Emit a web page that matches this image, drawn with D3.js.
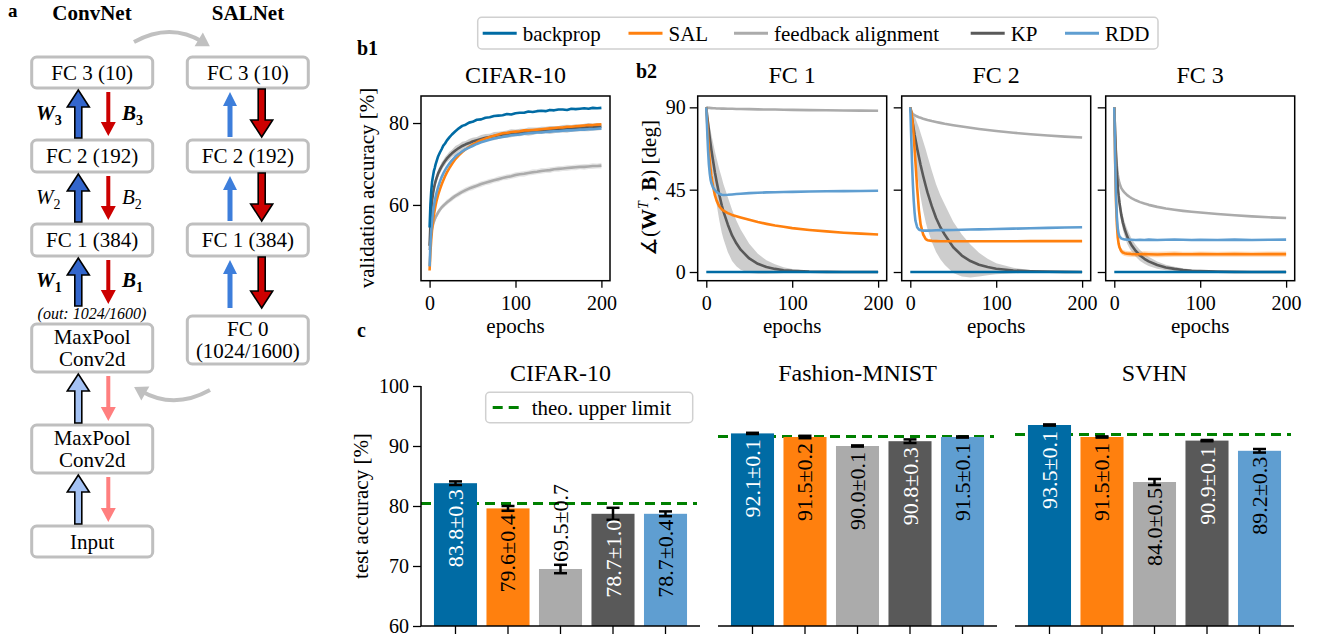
<!DOCTYPE html>
<html>
<head>
<meta charset="utf-8">
<script src="https://cdn.jsdelivr.net/npm/d3@7"></script>
<style>
  body { margin: 0; background: #fff; }
</style>
</head>
<body>
<div id="chart-area"></div>
<script>
var methods = ["backprop", "SAL", "feedback alignment", "KP", "RDD"]
var colors = ["#006ba4", "#ff800e", "#ababab", "#595959", "#5f9ed1"]
var serif = "'Liberation Serif', 'DejaVu Serif', serif"

// b1: validation accuracy on CIFAR-10
var epochsVal = [0,1,2,3,4,5,6,7,8,10,12,14,16,18,20,23,26,30,34,38,42,46,50,55,60,65,70,75,80,85,90,95,100,105,110,115,120,125,130,135,140,145,150,155,160,165,170,175,180,185,190,195,200]
var valBackprop = [54.5,60.2,63.6,65.8,67.1,68.3,69.0,69.9,70.6,71.9,72.8,73.6,74.5,75.0,75.7,76.5,77.2,78.0,78.7,79.3,79.6,80.1,80.3,80.8,80.9,81.3,81.4,81.7,81.8,81.9,82.2,82.1,82.4,82.5,82.5,82.8,82.7,82.9,83.0,82.9,83.2,83.1,83.3,83.3,83.2,83.5,83.4,83.5,83.6,83.5,83.7,83.6,83.7]
var valSAL = [44.0,48.5,51.8,54.2,56.0,57.5,58.8,59.9,60.9,62.5,63.8,65.0,66.0,67.0,67.9,69.0,70.0,71.2,72.1,72.9,73.6,74.2,74.7,75.3,75.8,76.2,76.6,76.9,77.2,77.5,77.6,77.8,77.9,78.0,78.2,78.2,78.3,78.4,78.5,78.6,78.7,78.8,78.9,78.9,79.1,79.1,79.2,79.3,79.4,79.5,79.5,79.6,79.7]
var valFA = [49.0,51.8,53.3,54.4,55.2,55.9,56.5,57.0,57.4,58.2,58.8,59.4,59.8,60.2,60.6,61.1,61.6,62.2,62.7,63.2,63.6,64.0,64.3,64.7,65.1,65.4,65.7,66.0,66.3,66.6,66.8,67.0,67.3,67.5,67.6,67.8,68.0,68.1,68.3,68.4,68.5,68.7,68.8,68.9,69.0,69.1,69.2,69.3,69.3,69.4,69.5,69.5,69.6]
var valKP = [50.0,55.5,58.8,61.2,62.8,64.0,65.0,65.8,66.5,67.7,68.6,69.4,70.1,70.7,71.3,72.0,72.6,73.3,73.9,74.4,74.8,75.1,75.5,75.8,76.1,76.4,76.6,76.8,77.0,77.2,77.3,77.5,77.6,77.7,77.8,77.9,78.0,78.1,78.2,78.3,78.3,78.4,78.5,78.6,78.6,78.7,78.8,78.8,78.9,79.0,79.0,79.1,79.1]
var valRDD = [45.0,50.5,54.0,56.5,58.3,59.8,61.0,62.0,62.9,64.4,65.7,66.8,67.7,68.5,69.2,70.1,70.9,71.8,72.5,73.1,73.6,74.0,74.4,74.9,75.3,75.6,75.9,76.2,76.4,76.6,76.8,77.0,77.1,77.2,77.4,77.5,77.6,77.7,77.7,77.8,77.9,78.0,78.0,78.1,78.2,78.2,78.3,78.4,78.4,78.5,78.5,78.6,78.7]
var valKPStd = [1.5,1.4,1.3,1.2,1.2,1.1,1.1,1.0,1.0,1.0,0.9,1.0,0.9,1.0,0.9,1.0,0.9,1.1,0.9,1.0,0.8,1.0,0.9,0.8,1.0,0.9,0.8,1.0,0.9,0.8,0.9,1.0,0.8,0.9,0.8,1.0,0.9,0.8,0.9,0.8,1.0,0.9,0.8,0.9,1.0,0.8,0.9,0.8,0.9,1.0,0.8,0.9,0.8]
var valFAStd = [1.2,1.0,0.9,0.9,0.8,0.8,0.8,0.7,0.7,0.7,0.7,0.6,0.7,0.6,0.7,0.6,0.7,0.6,0.7,0.6,0.7,0.6,0.7,0.6,0.7,0.6,0.7,0.6,0.7,0.6,0.7,0.6,0.7,0.6,0.7,0.6,0.7,0.6,0.7,0.6,0.7,0.6,0.7,0.6,0.7,0.6,0.7,0.6,0.7,0.6,0.7,0.6,0.7]

// b2: angle between W^T and B per layer
var epochsAngle = [0,1,2,3,4,5,6,8,10,12,15,18,20,25,30,35,40,50,60,70,80,90,100,120,140,160,180,200]
var angleBackprop = [0,0,0,0,0,0,0,0,0,0,0,0,0,0,0,0,0,0,0,0,0,0,0,0,0,0,0,0]
var fc1FA = [90,89.9,89.8,89.7,89.7,89.6,89.6,89.5,89.5,89.4,89.4,89.3,89.3,89.2,89.2,89.1,89.1,89.0,88.9,88.8,88.8,88.7,88.6,88.5,88.4,88.3,88.2,88.1]
var fc1KP = [90,85.5,81.5,77.5,73.5,70,66.5,60.5,54.5,49.5,42.5,36.5,33,26,20,15.7,12.2,7.4,4.5,2.7,1.7,1.0,0.6,0.2,0.1,0,0,0]
var fc1KPStd = [0,2,3.5,5,6.5,7.5,8.5,10,11.5,12.5,14,15,15,15,14,12.5,11,8,5.5,3.7,2.5,1.6,1.0,0.4,0.2,0.1,0,0]
var fc1SAL = [90,82,74,67,61,56.5,52.5,46.5,42,39,36,34.3,33.5,32.2,31.2,30.5,29.8,28.5,27.3,26.3,25.4,24.7,24,23,22.2,21.5,21,20.5]
var fc1RDD = [90,78,67,59,54,50.5,48.5,46,44.8,43.8,42.8,42.2,42.1,42.2,42.4,42.6,42.8,43.1,43.3,43.5,43.6,43.7,43.8,44.0,44.1,44.2,44.3,44.4]
var fc2FA = [90,88,87,86.4,86,85.7,85.4,85,84.6,84.3,83.8,83.4,83.1,82.5,82,81.5,81,80.2,79.5,78.8,78.2,77.6,77.1,76.1,75.3,74.6,74,73.5]
var fc2KP = [90,87,84,81,78,75,72.5,67.5,63,58.5,52.5,47,43.5,36,29.5,24.5,20.5,13.5,9,6,4,2.7,1.8,0.8,0.4,0.2,0.1,0]
var fc2KPStd = [0,2,4,6,8,10,11.5,14,16,17.5,19,20,20,19.5,18.5,17.5,16.5,14,11.5,9,6.5,4.5,3,1.5,0.7,0.3,0.1,0]
var fc2SAL = [90,88,85,80,74,67,60,46,34,26,20.5,18,17.4,17,16.9,16.8,16.8,16.8,16.8,16.8,16.8,16.8,16.8,16.8,16.9,16.9,16.9,16.9]
var fc2RDD = [90,75,60,48,39,32.5,28,24.5,23.2,22.8,22.6,22.6,22.6,22.7,22.8,22.9,22.9,23.0,23.1,23.2,23.3,23.4,23.5,23.7,23.9,24.1,24.3,24.5]
var fc3FA = [90,75,65,58,53.5,50.5,48.5,46,44.5,43.4,42,41,40.4,39.2,38.2,37.4,36.7,35.6,34.7,34,33.4,32.9,32.5,31.7,31,30.4,29.9,29.5]
var fc3KP = [90,75,63,54,47,42,38,31.5,27,23.5,19.5,16.5,14.8,11.5,9,7.2,5.8,3.8,2.5,1.7,1.1,0.7,0.5,0.2,0.1,0,0,0]
var fc3KPStd = [0,2,3,3.5,4,4,4,4,4,4,4,3.8,3.5,3.2,3,2.7,2.5,2,1.5,1.2,1,0.7,0.5,0.3,0.2,0.1,0,0]
var fc3SAL = [90,60,38,26,19,15.5,13.5,11.5,10.7,10.3,10,9.9,9.8,9.7,9.7,9.8,9.7,9.6,9.7,9.8,9.7,9.7,9.8,9.7,9.8,9.7,9.8,9.8]
var fc3SALStd = [0,3,3,2.5,2,2,1.8,1.6,1.5,1.5,1.5,1.5,1.5,1.5,1.5,1.5,1.5,1.5,1.5,1.5,1.4,1.4,1.4,1.4,1.4,1.4,1.4,1.4]
var fc3RDD = [90,62,42,30,24,21,19.5,18.4,18,17.8,17.7,17.6,17.6,17.5,17.6,17.5,17.7,17.5,17.6,17.8,17.6,17.5,17.6,17.5,17.7,17.5,17.6,17.7]

// c: test accuracy
var datasets = ["CIFAR-10", "Fashion-MNIST", "SVHN"]
var cifarMean = [83.8, 79.6, 69.5, 78.7, 78.7]
var cifarStd = [0.3, 0.4, 0.7, 1.0, 0.4]
var fmnistMean = [92.1, 91.5, 90.0, 90.8, 91.5]
var fmnistStd = [0.1, 0.2, 0.1, 0.3, 0.1]
var svhnMean = [93.5, 91.5, 84.0, 90.9, 89.2]
var svhnStd = [0.1, 0.1, 0.5, 0.1, 0.3]
var upperLimit = [80.4, 91.6, 91.9]

// a: network sketch
var convNames = [["FC 3 (10)"], ["FC 2 (192)"], ["FC 1 (384)"], ["MaxPool", "Conv2d"], ["MaxPool", "Conv2d"], ["Input"]]
var salNames = [["FC 3 (10)"], ["FC 2 (192)"], ["FC 1 (384)"], ["FC 0", "(1024/1600)"]]
var convTop = [57, 140, 224, 324, 425, 526]
var convBottom = [88, 172, 256, 372, 473, 557]
var salTop = [57, 140, 224, 316]
var salBottom = [88, 172, 256, 364]

var svg = d3.select("#chart-area").append("svg")
    .attr("width", 1324)
    .attr("height", 639)
    .style("font-family", serif)

function label(x, y, txt, size, opts) {
  opts = opts || {}
  return svg.append("text")
    .attr("x", x).attr("y", y)
    .attr("font-size", size)
    .attr("text-anchor", opts.anchor || "start")
    .attr("font-weight", opts.bold ? "bold" : "normal")
    .attr("font-style", opts.italic ? "italic" : "normal")
    .text(txt)
}

// ---------- panel a ----------
label(8, 17, "a", 19, {bold: true})
label(92, 20, "ConvNet", 21, {bold: true, anchor: "middle"})
label(248, 20, "SALNet", 21, {bold: true, anchor: "middle"})

function box(x0, top, bottom, lines) {
  svg.append("rect")
    .attr("x", x0).attr("y", top)
    .attr("width", 121).attr("height", bottom - top)
    .attr("rx", 5)
    .attr("fill", "#fff").attr("stroke", "#bfbfbf").attr("stroke-width", 3)
  var mid = (top + bottom) / 2
  lines.forEach(function(t, i) {
    label(x0 + 60.5, mid + 7 + (i - (lines.length - 1) / 2) * 22, t, 21, {anchor: "middle"})
  })
}

function arrow(cx, yFrom, yTo, shaft, head, headLen, fill, stroke) {
  var dir = yTo < yFrom ? -1 : 1
  var yb = yTo - dir * headLen
  var pts = [[cx - shaft / 2, yFrom], [cx - shaft / 2, yb], [cx - head / 2, yb], [cx, yTo],
             [cx + head / 2, yb], [cx + shaft / 2, yb], [cx + shaft / 2, yFrom]]
  svg.append("polygon")
    .attr("points", pts.map(function(p) { return p.join(",") }).join(" "))
    .attr("fill", fill)
    .attr("stroke", stroke || "none")
    .attr("stroke-width", 1.6)
}

function curvedArrow(x0, y0, cx, cy, x1, y1) {
  svg.append("path")
    .attr("d", "M" + x0 + "," + y0 + " Q" + cx + "," + cy + " " + x1 + "," + y1)
    .attr("fill", "none").attr("stroke", "#c0c0c0").attr("stroke-width", 4)
  var dx = x1 - cx, dy = y1 - cy, len = Math.sqrt(dx * dx + dy * dy)
  dx /= len; dy /= len
  var tip = [x1 + dx * 8, y1 + dy * 8]
  var base = [x1 - dx * 5, y1 - dy * 5]
  var pts = [tip, [base[0] - dy * 8, base[1] + dx * 8], [base[0] + dy * 8, base[1] - dx * 8]]
  svg.append("polygon")
    .attr("points", pts.map(function(p) { return p.join(",") }).join(" "))
    .attr("fill", "#c0c0c0")
}

convNames.forEach(function(n, i) { box(31.7, convTop[i], convBottom[i], n) })
salNames.forEach(function(n, i) { box(187.3, salTop[i], salBottom[i], n) })

for (var i = 0; i < 5; i++) {
  var yEnd = i == 2 ? 306 : convTop[i + 1] - 2
  arrow(78.3, yEnd, convBottom[i] + 2, 7, 22, 17, i < 3 ? "#3366cc" : "#a4c2f4", "#000")
  arrow(108.3, convBottom[i] + 4, yEnd - 2, 4, 15, 14, i < 3 ? "#cc0000" : "#ff7f7f")
}
for (var j = 0; j < 3; j++) {
  var yEnd2 = j == 2 ? 308 : salTop[j + 1] - 3
  arrow(230, yEnd2, salBottom[j] + 4, 5, 14, 14, "#3d7edb")
  arrow(261.7, salBottom[j] + 1, yEnd2, 7, 22, 17, "#cc0000", "#000")
}

var wbIndex = ["3", "2", "1"]
wbIndex.forEach(function(s, i) {
  var mid = (convBottom[i] + (i == 2 ? 306 : convTop[i + 1])) / 2
  var bold = s != "2"
  var w = label(36, mid + 6, "W", 21, {italic: true, bold: bold})
  w.append("tspan").attr("font-size", 14).attr("dy", 5).attr("font-style", "normal").text(s)
  var b = label(122, mid + 6, "B", 21, {italic: true, bold: bold})
  b.append("tspan").attr("font-size", 14).attr("dy", 5).attr("font-style", "normal").text(s)
})
label(92, 319, "(out: 1024/1600)", 16, {italic: true, anchor: "middle"})

curvedArrow(134, 42, 170, 22, 203, 42)
curvedArrow(210, 390, 174, 410, 141, 391)

// ---------- legend ----------
svg.append("rect")
  .attr("x", 477.7).attr("y", 17.3).attr("width", 680.3).attr("height", 31.7)
  .attr("rx", 4).attr("fill", "#fff").attr("stroke", "#d0d0d0").attr("stroke-width", 1.5)
var legendX = [482.7, 628.5, 734, 970.7, 1065]
methods.forEach(function(m, i) {
  svg.append("line")
    .attr("x1", legendX[i]).attr("x2", legendX[i] + 34)
    .attr("y1", 33.3).attr("y2", 33.3)
    .attr("stroke", colors[i]).attr("stroke-width", 3)
  label(legendX[i] + 40, 40.5, m, 21)
})

// ---------- panels b ----------
label(357, 55, "b1", 20, {bold: true})
label(636, 78, "b2", 20, {bold: true})

function linePanel(left, title, yDomain, yTicks, showLabels, series) {
  var x = d3.scaleLinear().domain([-10, 210]).range([left, left + 189])
  var y = d3.scaleLinear().domain(yDomain).range([280.7, 96])
  var g = svg.append("g")
  var clipId = "clip" + Math.round(left)
  svg.append("clipPath").attr("id", clipId)
    .append("rect").attr("x", left).attr("y", 96).attr("width", 189).attr("height", 184.7)
  var plot = g.append("g").attr("clip-path", "url(#" + clipId + ")")

  series.forEach(function(s) {
    if (!s.std) return
    var area = d3.area()
      .x(function(d, i) { return x(s.x[i]) })
      .y0(function(d, i) { return y(d - s.std[i]) })
      .y1(function(d, i) { return y(d + s.std[i]) })
    plot.append("path").datum(s.y)
      .attr("d", area)
      .attr("fill", s.color).attr("opacity", 0.3)
  })
  series.forEach(function(s) {
    var line = d3.line()
      .x(function(d, i) { return x(s.x[i]) })
      .y(function(d) { return y(d) })
    plot.append("path").datum(s.y)
      .attr("d", line)
      .attr("fill", "none").attr("stroke", s.color).attr("stroke-width", 2.6)
      .attr("stroke-linejoin", "round")
  })

  var xAxis = g.append("g")
    .attr("transform", "translate(0,280.7)")
    .call(d3.axisBottom(x).tickValues([0, 100, 200]).tickSize(7).tickPadding(8))
  var yAxis = g.append("g")
    .attr("transform", "translate(" + left + ",0)")
    .call(d3.axisLeft(y).tickValues(yTicks).tickSize(8).tickPadding(4)
      .tickFormat(showLabels ? d3.format("d") : ""))
  ;[xAxis, yAxis].forEach(function(a) {
    a.attr("font-size", 20).attr("font-family", null)
    a.select(".domain").remove()
    a.selectAll(".tick line").attr("stroke", "#000").attr("stroke-width", 1.3)
  })

  g.append("rect")
    .attr("x", left).attr("y", 96).attr("width", 189).attr("height", 184.7)
    .attr("fill", "none").attr("stroke", "#000").attr("stroke-width", 1.5)
  label(left + 94.5, 83, title, 24, {anchor: "middle"})
  label(left + 94.5, 333, "epochs", 21, {anchor: "middle"})
}

linePanel(421, "CIFAR-10", [41.5, 86.6], [60, 80], true, [
  {x: epochsVal, y: valFA, std: valFAStd, color: colors[2]},
  {x: epochsVal, y: valKP, std: valKPStd, color: colors[3]},
  {x: epochsVal, y: valSAL, color: colors[1]},
  {x: epochsVal, y: valRDD, color: colors[4]},
  {x: epochsVal, y: valBackprop, color: colors[0]}
])

var angleSets = [
  ["FC 1", fc1FA, fc1KP, fc1KPStd, fc1SAL, null, fc1RDD],
  ["FC 2", fc2FA, fc2KP, fc2KPStd, fc2SAL, null, fc2RDD],
  ["FC 3", fc3FA, fc3KP, fc3KPStd, fc3SAL, fc3SALStd, fc3RDD]
]
angleSets.forEach(function(a, k) {
  linePanel(697.7 + k * 204, a[0], [-4.75, 96.2], [0, 45, 90], k == 0, [
    {x: epochsAngle, y: a[1], color: colors[2]},
    {x: epochsAngle, y: a[2], std: a[3], color: colors[3]},
    {x: epochsAngle, y: a[4], std: a[5], color: colors[1]},
    {x: epochsAngle, y: a[6], color: colors[4]},
    {x: epochsAngle, y: angleBackprop, color: colors[0]}
  ])
})

svg.append("text")
  .attr("transform", "translate(374,188) rotate(-90)")
  .attr("text-anchor", "middle").attr("font-size", 21)
  .text("validation accuracy [%]")

var ang = svg.append("text")
  .attr("transform", "translate(656,188) rotate(-90)")
  .attr("text-anchor", "middle").attr("font-size", 21)
ang.append("tspan").text("\u2221(")
ang.append("tspan").attr("font-weight", "bold").text("W")
ang.append("tspan").attr("font-style", "italic").attr("font-size", 14).attr("dy", -8).text("T")
ang.append("tspan").attr("dy", 8).text(", ")
ang.append("tspan").attr("font-weight", "bold").text("B")
ang.append("tspan").text(") [deg]")

// ---------- panel c ----------
label(357, 337, "c", 20, {bold: true})

var y = d3.scaleLinear().domain([60, 100]).range([626, 386])

function barPanel(k, left, means, stds) {
  var x = d3.scaleBand().domain(methods)
    .range([left, left + 279])
    .paddingInner(0.18).paddingOuter(0.247)
  var g = svg.append("g")

  g.append("line")
    .attr("x1", left).attr("x2", left + 276)
    .attr("y1", y(upperLimit[k])).attr("y2", y(upperLimit[k]))
    .attr("stroke", "green").attr("stroke-width", 3).attr("stroke-dasharray", "10,6")

  g.selectAll("rect.bar").data(means).enter().append("rect")
    .attr("class", "bar")
    .attr("x", function(d, i) { return x(methods[i]) })
    .attr("y", function(d) { return y(d) })
    .attr("width", x.bandwidth())
    .attr("height", function(d) { return y(60) - y(d) })
    .attr("fill", function(d, i) { return colors[i] })

  means.forEach(function(m, i) {
    var cx = x(methods[i]) + x.bandwidth() / 2
    var lo = y(m - stds[i]), hi = y(m + stds[i])
    g.append("line").attr("x1", cx).attr("x2", cx).attr("y1", lo).attr("y2", hi)
      .attr("stroke", "#000").attr("stroke-width", 2.5)
    ;[lo, hi].forEach(function(yy) {
      g.append("line").attr("x1", cx - 6.5).attr("x2", cx + 6.5).attr("y1", yy).attr("y2", yy)
        .attr("stroke", "#000").attr("stroke-width", 2.5)
    })
    var above = m < 75
    var ty = above ? y(m) - 46 : y(m) + 45
    g.append("text")
      .attr("transform", "translate(" + (cx + 7.5) + "," + ty + ") rotate(-90)")
      .attr("text-anchor", "middle").attr("font-size", 22)
      .style("fill", (i == 0 || i == 3) && !above ? "#fff" : "#000")
      .text(m.toFixed(1) + "\u00b1" + stds[i].toFixed(1))
  })

  var xAxis = g.append("g")
    .attr("transform", "translate(0,626)")
    .call(d3.axisBottom(x).tickSize(8).tickFormat(""))
  xAxis.select(".domain").remove()
  xAxis.selectAll(".tick line").attr("stroke", "#000").attr("stroke-width", 1.3)
  g.append("line").attr("x1", left).attr("x2", left + 279).attr("y1", 626).attr("y2", 626)
    .attr("stroke", "#000").attr("stroke-width", 1.5)

  if (k == 0) {
    var yAxis = g.append("g")
      .attr("transform", "translate(" + left + ",0)")
      .call(d3.axisLeft(y).tickValues([60, 70, 80, 90, 100]).tickSize(8).tickPadding(4))
    yAxis.attr("font-size", 20).attr("font-family", null)
    yAxis.select(".domain").remove()
    yAxis.selectAll(".tick line").attr("stroke", "#000").attr("stroke-width", 1.3)
    g.append("line").attr("x1", left).attr("x2", left).attr("y1", 386).attr("y2", 626)
      .attr("stroke", "#000").attr("stroke-width", 1.5)
  }
  label(left + 139.5, 381, datasets[k], 24, {anchor: "middle"})
}

barPanel(0, 421, cifarMean, cifarStd)
barPanel(1, 718, fmnistMean, fmnistStd)
barPanel(2, 1015, svhnMean, svhnStd)

svg.append("text")
  .attr("transform", "translate(368,506) rotate(-90)")
  .attr("text-anchor", "middle").attr("font-size", 21)
  .text("test accuracy [%]")

// legend for the upper limit
svg.append("rect")
  .attr("x", 485.7).attr("y", 392.3).attr("width", 207).attr("height", 30.4)
  .attr("rx", 4).attr("fill", "#fff").attr("fill-opacity", 0.85)
  .attr("stroke", "#d0d0d0").attr("stroke-width", 1.5)
svg.append("line")
  .attr("x1", 492.7).attr("x2", 520.7).attr("y1", 407.5).attr("y2", 407.5)
  .attr("stroke", "green").attr("stroke-width", 3).attr("stroke-dasharray", "10,6")
label(531.7, 414.5, "theo. upper limit", 21)

svg.selectAll("text").style("font-family", serif)
</script>
</body>
</html>
